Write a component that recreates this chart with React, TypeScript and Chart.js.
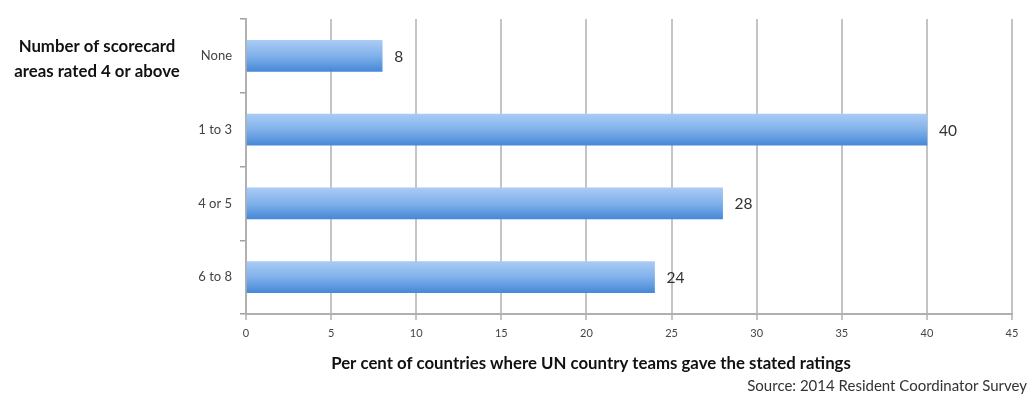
import React, { useEffect, useRef } from "react";
import { Chart, registerables } from "chart.js";

Chart.register(...registerables);

const categories = ["None", "1 to 3", "4 or 5", "6 to 8"];
const values = [8, 40, 28, 24];
const xTicks = [0, 5, 10, 15, 20, 25, 30, 35, 40, 45];
const yTitleLines = ["Number of scorecard", "areas rated 4 or above"];
const xTitle = "Per cent of countries where UN country teams gave the stated ratings";
const sourceText = "Source: 2014 Resident Coordinator Survey";

const FONT = "Lato, 'Open Sans', sans-serif";
const BAR_THICK = 31;

export default function App() {
  const ref = useRef<HTMLCanvasElement | null>(null);
  useEffect(() => {
    if (!ref.current) return;
    const textPlugin = {
      id: "texts",
      afterDatasetsDraw(chart: any) {
        const c = chart.ctx;
        const meta = chart.getDatasetMeta(0);
        c.save();
        c.fillStyle = "#333";
        c.font = `15.5px ${FONT}`;
        c.textBaseline = "middle";
        c.textAlign = "left";
        meta.data.forEach((el: any, i: number) => {
          c.fillText(String(values[i]), el.x + 12, el.y + 1);
        });
        c.restore();
      },
      afterDraw(chart: any) {
        const c = chart.ctx;
        c.save();
        c.fillStyle = "#111";
        c.font = `bold 16.8px ${FONT}`;
        c.textAlign = "center";
        c.textBaseline = "middle";
        c.fillText(yTitleLines[0], 97, 47);
        c.fillText(yTitleLines[1], 97, 72);
        c.font = `bold 16.8px ${FONT}`;
        c.fillText(xTitle, 591, 364);
        c.font = `15px ${FONT}`;
        c.fillStyle = "#333";
        c.textAlign = "right";
        c.fillText(sourceText, 1027, 386);
        c.restore();
      },
    };
    const chart = new Chart(ref.current, {
      type: "bar",
      data: {
        labels: categories,
        datasets: [
          {
            data: values,
            barThickness: BAR_THICK,
            borderWidth: 0,
            backgroundColor: (ctx: any) => {
              const ch = ctx.chart;
              const ys = ch.scales && ch.scales.y;
              if (!ys || ctx.dataIndex === undefined) return "#6fa3e4";
              const yc = ys.getPixelForValue(ctx.dataIndex);
              if (!isFinite(yc)) return "#6fa3e4";
              const g = ch.ctx.createLinearGradient(0, yc - BAR_THICK / 2, 0, yc + BAR_THICK / 2);
              g.addColorStop(0, "#a9cbf5");
              g.addColorStop(0.5, "#80b1ea");
              g.addColorStop(1, "#4788d7");
              return g;
            },
          },
        ],
      },
      options: {
        indexAxis: "y",
        animation: false,
        responsive: false,
        maintainAspectRatio: false,
        layout: { padding: { top: 19, right: 19, left: 0, bottom: 0 } },
        plugins: { legend: { display: false }, tooltip: { enabled: false } },
        scales: {
          x: {
            min: 0,
            max: 45,
            afterBuildTicks: (s: any) => {
              s.ticks = xTicks.map((v) => ({ value: v }));
            },
            afterFit: (s: any) => {
              s.height = 86;
            },
            grid: {
              color: "#c4c4c4",
              lineWidth: 2,
              tickLength: 6,
              drawTicks: true,
            },
            border: { color: "#b0b0b0", width: 2 },
            ticks: {
              color: "#444",
              font: { family: FONT, size: 11 },
              padding: 7,
            },
          },
          y: {
            afterFit: (s: any) => {
              s.width = 246;
            },
            grid: {
              drawOnChartArea: false,
              offset: true,
              tickLength: 6,
              color: "#a0a0a0",
              lineWidth: 1.5,
            },
            border: { color: "#b0b0b0", width: 2 },
            ticks: {
              color: "#444",
              font: { family: FONT, size: 13 },
              padding: 8,
            },
          },
        },
      },
      plugins: [textPlugin],
    } as any);
    return () => chart.destroy();
  }, []);
  return (
    <canvas
      ref={ref}
      width={1031}
      height={400}
      style={{ position: "absolute", left: 0, top: 0, width: 1031, height: 400, background: "#fff" }}
    />
  );
}
